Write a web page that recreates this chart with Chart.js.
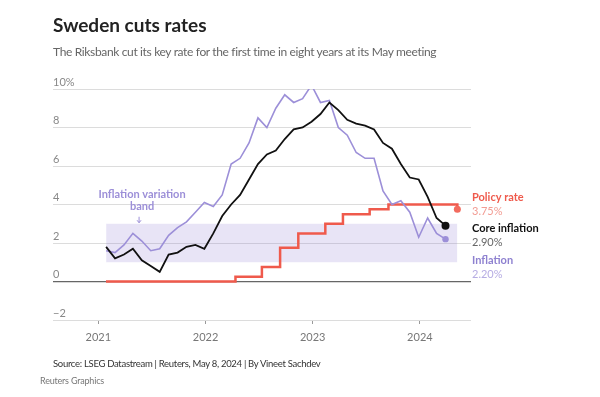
<!DOCTYPE html>
<html>
<head>
<meta charset="utf-8">
<script src="https://cdn.jsdelivr.net/npm/chart.js@4"></script>
<style>
  body { margin: 0; background: #fff; font-family: Lato, "Noto Sans", sans-serif; }
  #wrap { position: relative; width: 600px; height: 397px; overflow: hidden; }
  #chart { position: absolute; left: 0; top: 0; }
  .txt { position: absolute; white-space: nowrap; }
  #title { left: 53px; top: 14px; font-size: 19px; line-height: 22px; font-weight: 700; color: #222; }
  #sub { left: 53px; top: 44px; font-size: 12px; line-height: 16px; color: #666; letter-spacing: -0.35px; }
  #src { left: 53px; top: 356px; font-size: 9.5px; line-height: 16px; color: #333; letter-spacing: -0.3px; }
  #brand { left: 40px; top: 373px; font-size: 9px; line-height: 16px; color: #777; letter-spacing: -0.2px; }
</style>
</head>
<body>
<div id="wrap">
  <canvas id="chart" width="600" height="397"></canvas>
  <div class="txt" id="title">Sweden cuts rates</div>
  <div class="txt" id="sub">The Riksbank cut its key rate for the first time in eight years at its May meeting</div>
  <div class="txt" id="src">Source: LSEG Datastream | Reuters, May 8, 2024 | By Vineet Sachdev</div>
  <div class="txt" id="brand">Reuters Graphics</div>
</div>
<script>
// monthly readings, Jan 2021 - Mar 2024
const firstMonth = "2021-01";
const inflation = [
    1.6, 1.5, 1.9, 2.5, 2.1, 1.6, 1.7, 2.4, 2.8, 3.1, 3.6, 4.1,
    3.9, 4.5, 6.1, 6.4, 7.2, 8.5, 8.0, 9.0, 9.7, 9.3, 9.5, 10.2,
    9.3, 9.4, 8.0, 7.6, 6.7, 6.4, 6.4, 4.7, 4.0, 4.2, 3.6, 2.3,
    3.3, 2.5, 2.2
];
const coreInflation = [
    1.8, 1.2, 1.4, 1.7, 1.1, 0.8, 0.5, 1.4, 1.5, 1.8, 1.9, 1.7,
    2.5, 3.4, 4.0, 4.5, 5.3, 6.1, 6.6, 6.8, 7.4, 7.9, 8.0, 8.3,
    8.7, 9.3, 8.9, 8.4, 8.2, 8.1, 7.9, 7.2, 6.9, 6.1, 5.4, 5.3,
    4.4, 3.3, 2.9
];

// policy rate changes
const policyDates = ["2021-01-27", "2022-04-13", "2022-07-12", "2022-09-12", "2022-11-13",
                     "2023-02-13", "2023-04-14", "2023-07-14", "2023-09-16", "2024-05-08"];
const policyRates = [0, 0.25, 0.75, 1.75, 2.5, 3.0, 3.5, 3.75, 4.0, 3.75];

const bandLow = 1;
const bandHigh = 3;

const yearTicks = [2021, 2022, 2023, 2024];
const valueTicks = [-2, 0, 2, 4, 6, 8, 10];

// helpers: everything on a fractional-year axis
function dateToYear(s) {
    const [y, m, d] = s.split("-").map(Number);
    const start = Date.UTC(y, 0, 1), end = Date.UTC(y + 1, 0, 1);
    return y + (Date.UTC(y, m - 1, d) - start) / (end - start);
}
function monthToYear(i) {
    const [y0, m0] = firstMonth.split("-").map(Number);
    return y0 + (m0 - 1 + i + 0.87) / 12;
}

const inflPts = inflation.map((v, i) => ({ x: monthToYear(i), y: v }));
const corePts = coreInflation.map((v, i) => ({ x: monthToYear(i), y: v }));
const policyPts = policyRates.map((v, i) => ({ x: dateToYear(policyDates[i]), y: v }));
const bandStart = monthToYear(0);
const bandEnd = policyPts[policyPts.length - 1].x;

const RED = "#ef5a4c", PURPLE = "#9c8fd8", BLACK = "#111";

function lastDot(r) {
    return ctx => ctx.dataIndex === ctx.dataset.data.length - 1 ? r : 0;
}

// labels to the right and the band note
const notes = {
    id: "notes",
    afterDatasetsDraw(chart) {
        const c = chart.ctx, xs = chart.scales.x, ys = chart.scales.y;
        const x0 = chart.chartArea.right + 1;
        c.save();
        c.textBaseline = "middle";
        c.textAlign = "left";
        const lab = (t, y, font, col) => { c.font = font; c.fillStyle = col; c.fillText(t, x0, y); };
        const B = "bold 11px Lato", R = "11px Lato";
        const pLast = policyRates[policyRates.length - 1];
        const cLast = coreInflation[coreInflation.length - 1];
        const iLast = inflation[inflation.length - 1];
        const py = ys.getPixelForValue(pLast), cy = ys.getPixelForValue(cLast), iy = ys.getPixelForValue(iLast);
        lab("Policy rate", py - 12, B, RED);
        lab(pLast.toFixed(2) + "%", py + 2.5, R, "#f29c93");
        lab("Core inflation", cy + 2.5, B, BLACK);
        lab(cLast.toFixed(2) + "%", cy + 17, R, "#666");
        lab("Inflation", iy + 21, B, "#8e81d0");
        lab(iLast.toFixed(2) + "%", iy + 35, R, "#b6ace3");

        // band annotation
        const ax = xs.getPixelForValue(2021.38);
        const top = ys.getPixelForValue(bandHigh);
        c.textAlign = "center";
        c.font = "bold 11px Lato";
        c.fillStyle = PURPLE;
        c.fillText("Inflation variation", ax + 3, top - 29);
        c.fillText("band", ax + 3, top - 17);
        c.strokeStyle = PURPLE;
        c.lineWidth = 1;
        c.beginPath();
        c.moveTo(ax, top - 7); c.lineTo(ax, top - 1);
        c.moveTo(ax - 2, top - 3.5); c.lineTo(ax, top - 1); c.lineTo(ax + 2, top - 3.5);
        c.stroke();
        c.restore();
    }
};

const ctx = document.getElementById("chart").getContext("2d");
const chart = new Chart(ctx, {
    type: "line",
    data: {
        datasets: [
            {
                label: "band top",
                data: [{ x: bandStart, y: bandHigh }, { x: bandEnd, y: bandHigh }],
                borderColor: "transparent", pointRadius: 0, fill: false, order: 10
            },
            {
                label: "band bottom",
                data: [{ x: bandStart, y: bandLow }, { x: bandEnd, y: bandLow }],
                borderColor: "transparent", pointRadius: 0,
                fill: "-1", backgroundColor: "rgba(140,120,210,0.2)", order: 9
            },
            {
                label: "Policy rate",
                data: policyPts,
                stepped: true,
                borderColor: RED, borderWidth: 2.5,
                pointRadius: lastDot(3.5), pointBackgroundColor: "#f26b5e", pointBorderWidth: 0,
                order: 3
            },
            {
                label: "Inflation",
                data: inflPts,
                borderColor: PURPLE, borderWidth: 1.6, tension: 0,
                pointRadius: lastDot(3.2), pointBackgroundColor: PURPLE, pointBorderWidth: 0,
                order: 2
            },
            {
                label: "Core inflation",
                data: corePts,
                borderColor: BLACK, borderWidth: 1.8, tension: 0,
                pointRadius: lastDot(4), pointBackgroundColor: BLACK, pointBorderWidth: 0,
                order: 1
            }
        ]
    },
    options: {
        responsive: false,
        animation: false,
        layout: { padding: { left: 53, right: 129, top: 89, bottom: 47 } },
        plugins: { legend: { display: false }, tooltip: { enabled: false } },
        scales: {
            x: {
                type: "linear",
                min: 2020.577,
                max: 2024.477,
                afterBuildTicks: s => { s.ticks = yearTicks.map(v => ({ value: v })); },
                afterFit: s => { s.height = 30; },
                grid: { drawOnChartArea: false, tickLength: 4, color: "#999" },
                border: { display: false },
                ticks: {
                    padding: 7,
                    color: "#777",
                    font: { family: "Lato", size: 11 },
                    callback: v => String(v)
                }
            },
            y: {
                min: -2,
                max: 10,
                afterBuildTicks: s => { s.ticks = valueTicks.map(v => ({ value: v })); },
                afterFit: s => { s.width = 0; },
                grid: {
                    drawTicks: false,
                    color: c => c.tick && c.tick.value === 0 ? "#666" : "#dcdcdc",
                    lineWidth: c => c.tick && c.tick.value === 0 ? 1.3 : 1
                },
                border: { display: false },
                ticks: {
                    mirror: true,
                    padding: 0,
                    labelOffset: -7,
                    color: "#888",
                    font: { family: "Lato", size: 11 },
                    callback: v => v === 10 ? "10%" : (v < 0 ? "\u2212" + Math.abs(v) : String(v))
                }
            }
        }
    },
    plugins: [notes]
});
</script>
</body>
</html>
